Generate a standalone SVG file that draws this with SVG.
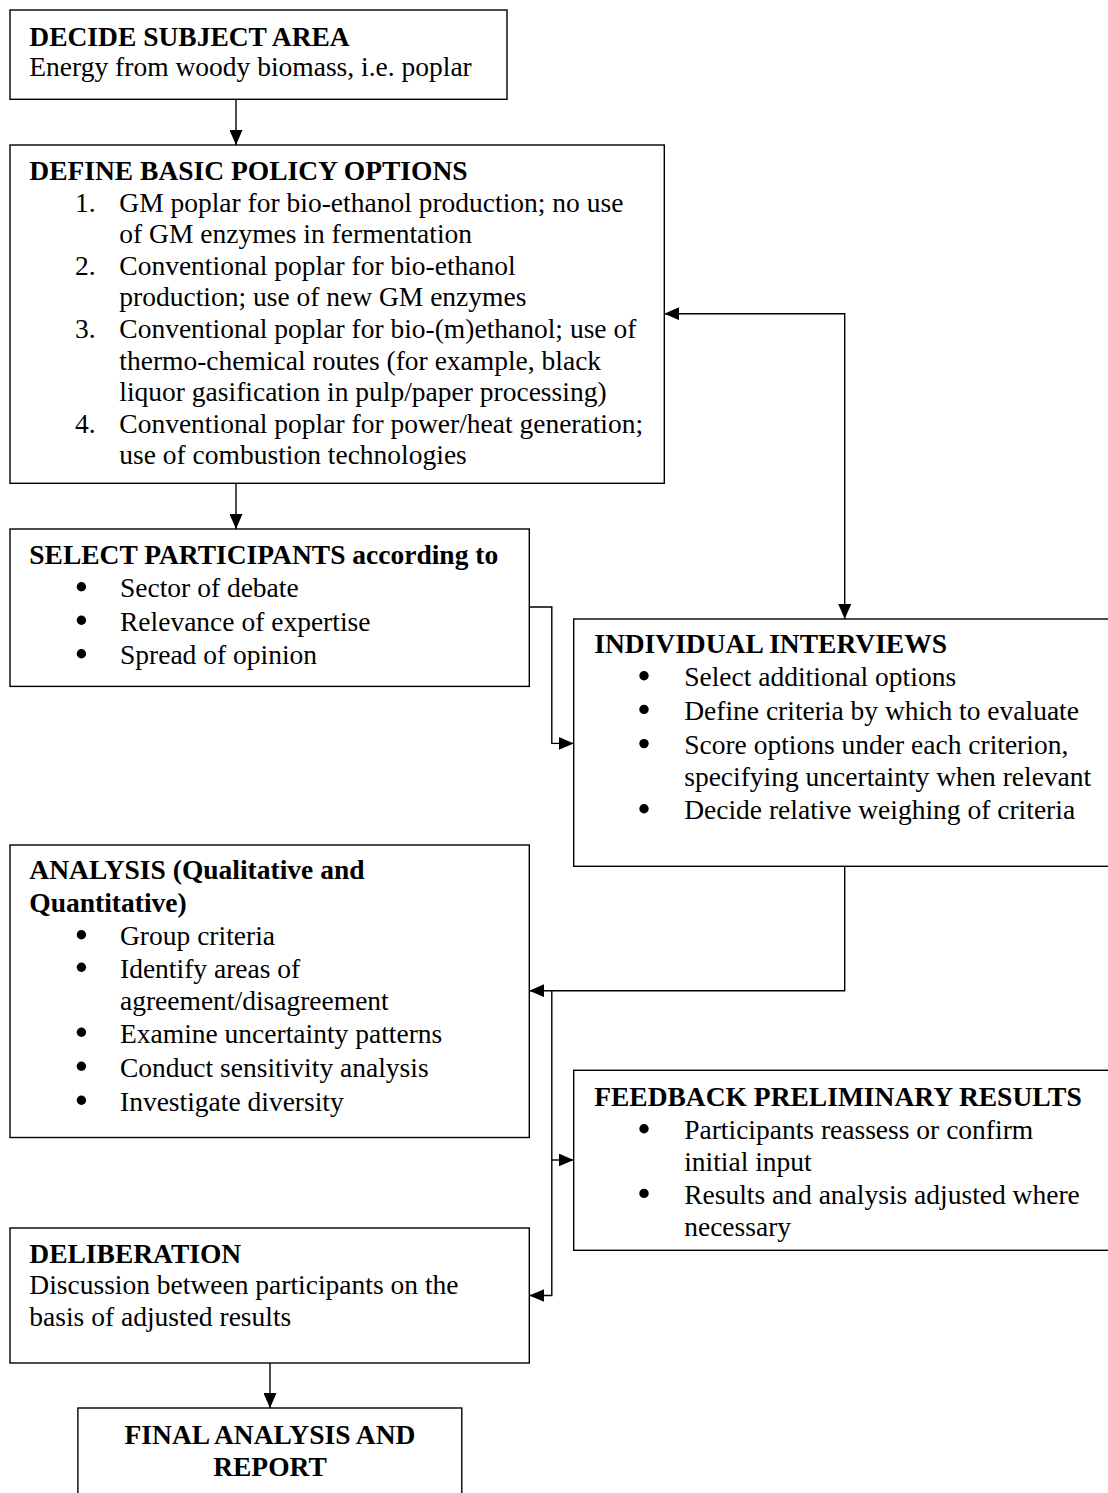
<svg xmlns="http://www.w3.org/2000/svg" width="1108" height="1493" viewBox="0 0 1108 1493">
<style>
.box{fill:#fff;stroke:#000;stroke-width:1.4}
.con{fill:none;stroke:#000;stroke-width:1.4}
.dot{fill:#000}
text{font-family:"Liberation Serif","Times New Roman",serif;font-size:27.5px;fill:#000}
.h{font-weight:bold}
.c{text-anchor:middle;font-weight:bold}
</style>
<defs>
<marker id="ah" markerUnits="userSpaceOnUse" markerWidth="15" markerHeight="13" refX="15" refY="6.5" orient="auto-start-reverse">
<path d="M0,0 L15,6.5 L0,13 z" fill="#000"/>
</marker>
</defs>
<rect width="1108" height="1493" fill="#fff"/>

<g id="connectors">
<path class="con" d="M236,99.3 V145" marker-end="url(#ah)"/>
<path class="con" d="M236,483.3 V529" marker-end="url(#ah)"/>
<path class="con" d="M664.3,313.7 H844.7 V619" marker-start="url(#ah)" marker-end="url(#ah)"/>
<path class="con" d="M529.3,607 H551.8 V743.4 H573.7" marker-end="url(#ah)"/>
<path class="con" d="M844.7,866.3 V990.7 H529.3" marker-end="url(#ah)"/>
<path class="con" d="M551.8,990.7 V1295.5 H529.3" marker-end="url(#ah)"/>
<path class="con" d="M551.8,1160 H573.7" marker-end="url(#ah)"/>
<path class="con" d="M270,1363 V1408" marker-end="url(#ah)"/>
</g>

<g id="decide">
<rect class="box" x="10" y="10" width="497" height="89.3"/>
<text class="h" x="29.3" y="45.7">DECIDE SUBJECT AREA</text>
<text x="29.3" y="76">Energy from woody biomass, i.e. poplar</text>
</g>

<g id="define">
<rect class="box" x="10" y="145" width="654.3" height="338.3"/>
<text class="h" x="29.3" y="180">DEFINE BASIC POLICY OPTIONS</text>
<text x="75" y="211.6">1.</text>
<text x="119.3" y="211.6">GM poplar for bio-ethanol production; no use</text>
<text x="119.3" y="243.2">of GM enzymes in fermentation</text>
<text x="75" y="274.8">2.</text>
<text x="119.3" y="274.8">Conventional poplar for bio-ethanol</text>
<text x="119.3" y="306.4">production; use of new GM enzymes</text>
<text x="75" y="338">3.</text>
<text x="119.3" y="338">Conventional poplar for bio-(m)ethanol; use of</text>
<text x="119.3" y="369.6">thermo-chemical routes (for example, black</text>
<text x="119.3" y="401.2">liquor gasification in pulp/paper processing)</text>
<text x="75" y="432.8">4.</text>
<text x="119.3" y="432.8">Conventional poplar for power/heat generation;</text>
<text x="119.3" y="464.4">use of combustion technologies</text>
</g>

<g id="select">
<rect class="box" x="10" y="529" width="519.3" height="157.4"/>
<text class="h" x="29.3" y="564">SELECT PARTICIPANTS according to</text>
<circle class="dot" cx="81.4" cy="586.7" r="4.7"/>
<text x="120" y="597">Sector of debate</text>
<circle class="dot" cx="81.4" cy="620.2" r="4.7"/>
<text x="120" y="630.5">Relevance of expertise</text>
<circle class="dot" cx="81.4" cy="653.7" r="4.7"/>
<text x="120" y="664">Spread of opinion</text>
</g>

<g id="interviews">
<rect class="box" x="573.7" y="619" width="545" height="247.3"/>
<text class="h" x="594.2" y="653">INDIVIDUAL INTERVIEWS</text>
<circle class="dot" cx="644" cy="675.7" r="4.7"/>
<text x="684.2" y="686">Select additional options</text>
<circle class="dot" cx="644" cy="709.4" r="4.7"/>
<text x="684.2" y="719.7">Define criteria by which to evaluate</text>
<circle class="dot" cx="644" cy="743.6" r="4.7"/>
<text x="684.2" y="753.9">Score options under each criterion,</text>
<text x="684.2" y="785.7">specifying uncertainty when relevant</text>
<circle class="dot" cx="644" cy="808.7" r="4.7"/>
<text x="684.2" y="819">Decide relative weighing of criteria</text>
</g>

<g id="analysis">
<rect class="box" x="10" y="845" width="519.3" height="292.5"/>
<text class="h" x="29.3" y="879.3">ANALYSIS (Qualitative and</text>
<text class="h" x="29.3" y="912">Quantitative)</text>
<circle class="dot" cx="81.4" cy="934.7" r="4.7"/>
<text x="120" y="945">Group criteria</text>
<circle class="dot" cx="81.4" cy="967.3" r="4.7"/>
<text x="120" y="977.6">Identify areas of</text>
<text x="120" y="1009.8">agreement/disagreement</text>
<circle class="dot" cx="81.4" cy="1032.3" r="4.7"/>
<text x="120" y="1042.6">Examine uncertainty patterns</text>
<circle class="dot" cx="81.4" cy="1066.3" r="4.7"/>
<text x="120" y="1076.6">Conduct sensitivity analysis</text>
<circle class="dot" cx="81.4" cy="1100.2" r="4.7"/>
<text x="120" y="1110.5">Investigate diversity</text>
</g>

<g id="feedback">
<rect class="box" x="573.7" y="1070.3" width="545" height="180"/>
<text class="h" x="594.2" y="1106">FEEDBACK PRELIMINARY RESULTS</text>
<circle class="dot" cx="644" cy="1128.7" r="4.7"/>
<text x="684.2" y="1139">Participants reassess or confirm</text>
<text x="684.2" y="1171.2">initial input</text>
<circle class="dot" cx="644" cy="1193.4" r="4.7"/>
<text x="684.2" y="1203.7">Results and analysis adjusted where</text>
<text x="684.2" y="1235.9">necessary</text>
</g>

<g id="deliberation">
<rect class="box" x="10" y="1228" width="519.3" height="135"/>
<text class="h" x="29.3" y="1263.4">DELIBERATION</text>
<text x="29.3" y="1294.4">Discussion between participants on the</text>
<text x="29.3" y="1325.8">basis of adjusted results</text>
</g>

<g id="final">
<rect class="box" x="77.9" y="1408" width="383.9" height="100"/>
<text class="c" x="270" y="1443.7">FINAL ANALYSIS AND</text>
<text class="c" x="270" y="1475.9">REPORT</text>
</g>
</svg>
